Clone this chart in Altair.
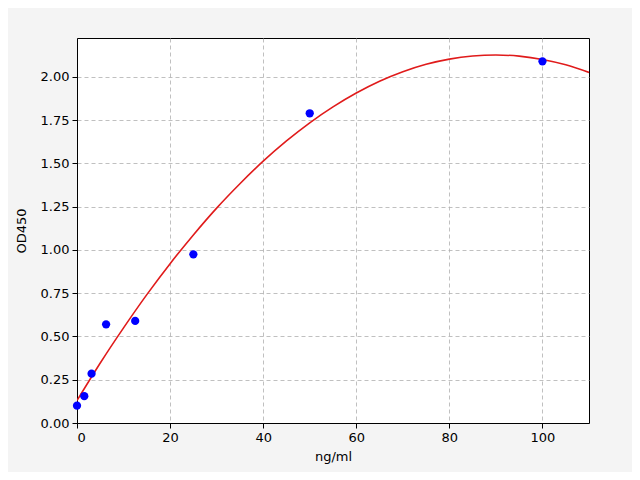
import altair as alt
import pandas as pd

conc = [0, 1.5625, 3.125, 6.25, 12.5, 25, 50, 100]
od = [0.10, 0.155, 0.285, 0.57, 0.59, 0.975, 1.79, 2.09]

curve_x = [0, 5, 10, 15, 20, 25, 30, 35, 40, 45, 50, 55, 60, 65, 70, 75, 80, 85, 90, 95, 100, 105, 110]
curve_y = [0.130, 0.347, 0.550, 0.742, 0.921, 1.087, 1.242, 1.383, 1.513, 1.630, 1.735, 1.827,
           1.907, 1.975, 2.030, 2.073, 2.103, 2.121, 2.127, 2.120, 2.101, 2.070, 2.026]

pts = pd.DataFrame({"x": conc, "y": od})
cur = pd.DataFrame({"x": curve_x, "y": curve_y})

xs = alt.Scale(domain=[0, 110], nice=False, zero=False)
ys = alt.Scale(domain=[0, 2.225], nice=False, zero=False)

xaxis = alt.Axis(title="ng/ml", values=[0, 20, 40, 60, 80, 100], format="d",
                 grid=True, gridDash=[4, 3], gridColor="#b0b0b0", gridWidth=0.8,
                 domainColor="black", tickColor="black", tickSize=5,
                 labelFontSize=13, titleFontSize=13, labelColor="black", titleColor="black",
                 labelFont="DejaVu Sans", titleFont="DejaVu Sans", titleFontWeight="normal",
                 labelPadding=3, titlePadding=6)
yaxis = alt.Axis(title="OD450", values=[0, 0.25, 0.5, 0.75, 1.0, 1.25, 1.5, 1.75, 2.0], format=".2f",
                 grid=True, gridDash=[4, 3], gridColor="#b0b0b0", gridWidth=0.8,
                 domainColor="black", tickColor="black", tickSize=5,
                 labelFontSize=13, titleFontSize=13, labelColor="black", titleColor="black",
                 labelFont="DejaVu Sans", titleFont="DejaVu Sans", titleFontWeight="normal",
                 labelPadding=3, titlePadding=12)

line = alt.Chart(cur).mark_line(color="#e01b1b", strokeWidth=1.6, interpolate="monotone", clip=True).encode(
    x=alt.X("x:Q", scale=xs, axis=xaxis),
    y=alt.Y("y:Q", scale=ys, axis=yaxis),
)
dots = alt.Chart(pts).mark_circle(color="#0000ff", size=68, opacity=1).encode(
    x=alt.X("x:Q", scale=xs),
    y=alt.Y("y:Q", scale=ys),
)

chart = (line + dots).properties(
    width=512, height=385, background="#f4f4f4",
    padding={"left": 69, "top": 30, "right": 43, "bottom": 49},
    autosize=alt.AutoSizeParams(type="none"),
).configure_view(stroke="black", strokeWidth=1, fill="white")

chart.save("out.html", embed_options={"renderer": "svg", "actions": False})
